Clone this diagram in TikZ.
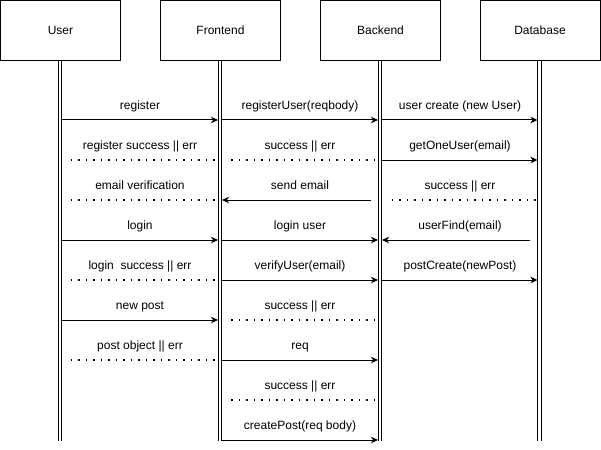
\documentclass[tikz,border=0pt]{standalone}
\usepackage{fontspec}
\setmainfont{Liberation Sans}
\usetikzlibrary{arrows.meta}
\begin{document}
\begin{tikzpicture}[x=1pt,y=-1pt,
  actor/.style={draw,line width=1pt,minimum width=120pt,minimum height=60pt,
    inner sep=0pt,font=\fontsize{12}{14}\selectfont},
  life/.style={double,line width=0.9pt,double distance=2.4pt},
  msg/.style={line width=1pt,-{Stealth[length=7pt,width=6.5pt,inset=2pt]}},
  reply/.style={line width=1.7pt,dash pattern=on 1.7pt off 5.8pt},
  lbl/.style={font=\fontsize{12}{14}\selectfont,inner sep=0pt,anchor=base}]

\useasboundingbox (0,0) rectangle (601,449);

% participants
\node[actor] (user) at (60.5,30.5)  {User};
\node[actor] (fe)   at (220.5,30.5) {Frontend};
\node[actor] (be)   at (380.5,30.5) {Backend};
\node[actor] (db)   at (540,30.5)   {Database};

% message rows
\foreach \i/\y in {1/120,2/160,3/200,4/240,5/280,6/320,7/360,8/400,9/440}
  \coordinate (r\i) at (0,\y);
\coordinate (bottom) at (0,441);

% lifelines
\foreach \p in {user,fe,be,db}
  \draw[life] ([xshift=-0.5pt]\p.south) -- ([xshift=-0.5pt]\p.south |- bottom);

% row 1
\draw[msg] ([xshift=1.5pt]user.south |- r1) -- ([xshift=-2.5pt]fe.south |- r1);
\draw[msg] ([xshift=1.5pt]fe.south |- r1) -- ([xshift=-2.5pt]be.south |- r1);
\draw[msg] ([xshift=1.5pt]be.south |- r1) -- ([xshift=-2.5pt]db.south |- r1);
\node[lbl] (t1a) at (140,109.5) {register};
\node[lbl] (t1b) at (300,109.5) {registerUser(reqbody)};
\node[lbl] (t1c) at (460,109.5) {user create (new User)};

% row 2
\draw[reply] ([xshift=10pt]user.south |- r2) -- ([xshift=-4pt]fe.south |- r2);
\draw[reply] ([xshift=10.5pt]fe.south |- r2) -- ([xshift=-3.5pt]be.south |- r2);
\draw[msg] ([xshift=1.5pt]be.south |- r2) -- ([xshift=-2.5pt]db.south |- r2);
\node[lbl] (t2a) at (140,149.5) {register success || err};
\node[lbl] (t2b) at (300,149.5) {success || err};
\node[lbl] (t2c) at (460,149.5) {getOneUser(email)};

% row 3
\draw[reply] ([xshift=10pt]user.south |- r3) -- ([xshift=-4pt]fe.south |- r3);
\draw[msg] ([xshift=-10pt]be.south |- r3) -- ([xshift=1.5pt]fe.south |- r3);
\draw[reply] ([xshift=11pt]be.south |- r3) -- ([xshift=-3.5pt]db.south |- r3);
\node[lbl] (t3a) at (140,189.5) {email verification};
\node[lbl] (t3b) at (300,189.5) {send email};
\node[lbl] (t3c) at (460,189.5) {success || err};

% row 4
\draw[msg] ([xshift=1.5pt]user.south |- r4) -- ([xshift=-2.5pt]fe.south |- r4);
\draw[msg] ([xshift=1.5pt]fe.south |- r4) -- ([xshift=-2.5pt]be.south |- r4);
\draw[msg] ([xshift=-10pt]db.south |- r4) -- ([xshift=1.5pt]be.south |- r4);
\node[lbl] (t4a) at (140,229.5) {login};
\node[lbl] (t4b) at (300,229.5) {login user};
\node[lbl] (t4c) at (460,229.5) {userFind(email)};

% row 5
\draw[reply] ([xshift=10pt]user.south |- r5) -- ([xshift=-4pt]fe.south |- r5);
\draw[msg] ([xshift=1.5pt]fe.south |- r5) -- ([xshift=-2.5pt]be.south |- r5);
\draw[msg] ([xshift=1.5pt]be.south |- r5) -- ([xshift=-2.5pt]db.south |- r5);
\node[lbl] (t5a) at (140,269.5) {login\ \ success || err};
\node[lbl] (t5b) at (300,269.5) {verifyUser(email)};
\node[lbl] (t5c) at (460,269.5) {postCreate(newPost)};

% row 6
\draw[msg] ([xshift=1.5pt]user.south |- r6) -- ([xshift=-2.5pt]fe.south |- r6);
\draw[reply] ([xshift=10.5pt]fe.south |- r6) -- ([xshift=-3.5pt]be.south |- r6);
\node[lbl] (t6a) at (140,309.5) {new post};
\node[lbl] (t6b) at (300,309.5) {success || err};

% row 7
\draw[reply] ([xshift=10pt]user.south |- r7) -- ([xshift=-4pt]fe.south |- r7);
\draw[msg] ([xshift=1.5pt]fe.south |- r7) -- ([xshift=-2.5pt]be.south |- r7);
\node[lbl] (t7a) at (140,349.5) {post object || err};
\node[lbl] (t7b) at (300,349.5) {req};

% row 8
\draw[reply] ([xshift=10.5pt]fe.south |- r8) -- ([xshift=-3.5pt]be.south |- r8);
\node[lbl] (t8b) at (300,389.5) {success || err};

% row 9
\draw[msg] ([xshift=1.5pt]fe.south |- r9) -- ([xshift=-2.5pt]be.south |- r9);
\node[lbl] (t9b) at (300,429.5) {createPost(req body)};

\end{tikzpicture}
\end{document}
